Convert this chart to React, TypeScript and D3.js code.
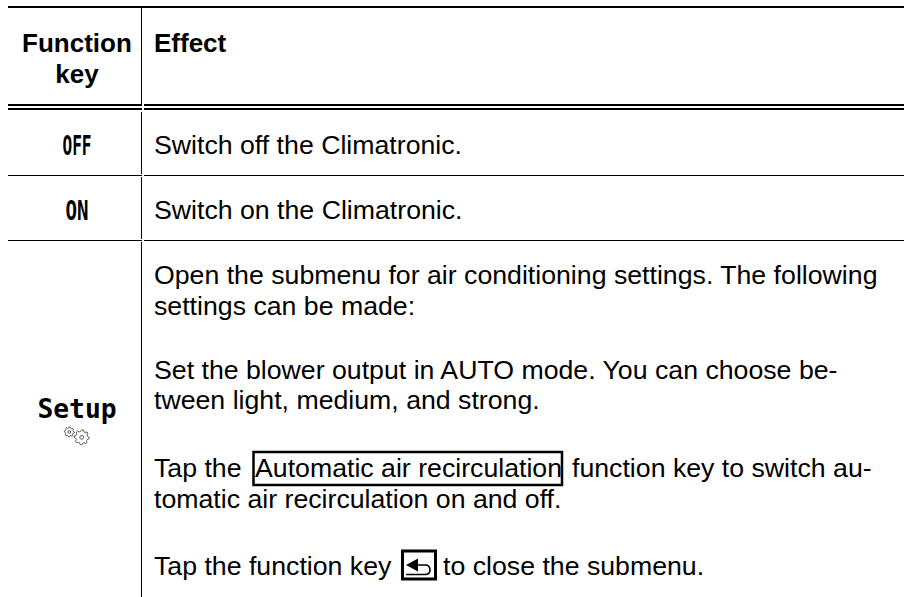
import React from 'react';
import * as d3 from 'd3';

const width = 904;
const height = 597;

const headerLines = ['Function', 'key'];
const effectHeader = 'Effect';
const keyLabels = ['OFF', 'ON', 'Setup'];
const rowRules = [175.5, 240.5];
const doubleRules = [105, 109];
const effectLines = [
  { text: 'Switch off the Climatronic.', y: 154 },
  { text: 'Switch on the Climatronic.', y: 219 },
  { text: 'Open the submenu for air conditioning settings. The following', y: 284 },
  { text: 'settings can be made:', y: 315 },
  { text: 'Set the blower output in AUTO mode. You can choose be-', y: 379 },
  { text: 'tween light, medium, and strong.', y: 409 },
  { text: 'tomatic air recirculation on and off.', y: 508 },
];
const sans = '"Liberation Sans", Arial, sans-serif';
const mono = '"DejaVu Sans Mono", monospace';

// one gear outline, teeth drawn with a radial line
const gearPath = (r: number, teeth: number) => {
  const pts = d3.range(teeth * 4).map(i => {
    const a = (i / (teeth * 4)) * Math.PI * 2;
    return [a, i % 4 < 2 ? r : r * 0.78] as [number, number];
  });
  return d3.lineRadial().curve(d3.curveLinearClosed)(pts) || '';
};

export default function App() {
  const x = d3.scaleLinear().domain([0, width]).range([0, width]);
  const divider = x(141.5);
  const textX = x(154);
  const keyX = x(77);

  return (
    <svg
      width={width}
      height={height}
      viewBox={`0 0 ${width} ${height}`}
      style={{ position: 'absolute', left: 0, top: 0, background: '#fff' }}
    >
      {/* table rules */}
      <line x1={8} x2={904} y1={7} y2={7} stroke="#000" strokeWidth={2} />
      <line x1={divider} x2={divider} y1={7} y2={106} stroke="#000" strokeWidth={1} />
      <line x1={divider} x2={divider} y1={112} y2={174} stroke="#000" strokeWidth={1} />
      <line x1={divider} x2={divider} y1={177} y2={239} stroke="#000" strokeWidth={1} />
      <line x1={divider} x2={divider} y1={242} y2={597} stroke="#000" strokeWidth={1} />
      {doubleRules.map(y => (
        <g key={y}>
          <line x1={8} x2={142} y1={y} y2={y} stroke="#000" strokeWidth={2} />
          <line x1={144} x2={904} y1={y} y2={y} stroke="#000" strokeWidth={2} />
        </g>
      ))}
      {rowRules.map(y => (
        <g key={y}>
          <line x1={8} x2={142} y1={y} y2={y} stroke="#000" strokeWidth={1} />
          <line x1={144} x2={904} y1={y} y2={y} stroke="#000" strokeWidth={1} />
        </g>
      ))}

      {/* header */}
      <g fontFamily={sans} fontWeight="bold" fontSize={26} fill="#000">
        {headerLines.map((t, i) => (
          <text key={t} x={keyX} y={52 + i * 31} textAnchor="middle">{t}</text>
        ))}
        <text x={textX} y={52}>{effectHeader}</text>
      </g>

      {/* key labels */}
      <g fill="#000" fontWeight="bold" fontFamily={mono} textAnchor="middle">
        <text x={keyX} y={155} fontSize={27} textLength={29} lengthAdjust="spacingAndGlyphs">{keyLabels[0]}</text>
        <text x={keyX} y={220} fontSize={27} textLength={23} lengthAdjust="spacingAndGlyphs">{keyLabels[1]}</text>
        <text x={keyX} y={418} fontSize={26.3}>{keyLabels[2]}</text>
      </g>

      {/* gears */}
      <g fill="none" stroke="#333" strokeWidth={0.8}>
        <g transform="translate(69.3,432)">
          <path d={gearPath(5, 8)} />
          <circle r={1.4} />
        </g>
        <g transform="translate(81.7,437.3)">
          <path d={gearPath(7.5, 8)} />
          <circle r={1.9} />
        </g>
      </g>

      {/* effect text */}
      <g fontFamily={sans} fontSize={26.7} fill="#000">
        {effectLines.map(l => (
          <text key={l.text} x={textX} y={l.y}>{l.text}</text>
        ))}
        <text x={textX} y={476.5}>Tap the</text>
        <text x={255} y={476.5}>Automatic air recirculation</text>
        <text x={572} y={476.5}>function key to switch au-</text>
        <text x={textX} y={575}>Tap the function key</text>
        <text x={443} y={575}>to close the submenu.</text>
      </g>

      {/* boxed function key */}
      <rect x={253.5} y={452} width={308.5} height={33} fill="none" stroke="#000" strokeWidth={2.5} />
      <rect x={402.5} y={551} width={33} height={28} fill="none" stroke="#000" strokeWidth={3} />
      <path d="M406 574.5 H425 Q430 574.5 430 570 Q430 565 425 565 H414" fill="none" stroke="#000" strokeWidth={1.6} />
      <path d="M406 565 L418 558.5 V571.5 Z" fill="#000" />
    </svg>
  );
}
